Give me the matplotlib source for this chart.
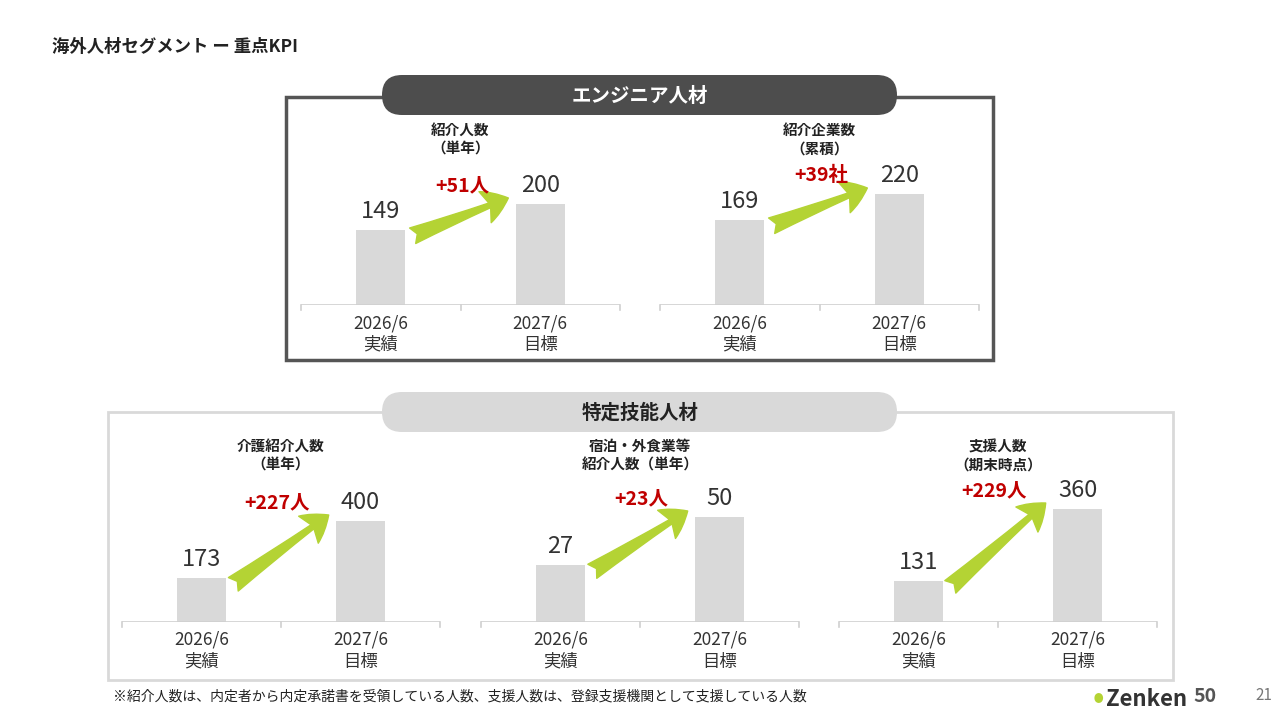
import matplotlib.pyplot as plt
from matplotlib.patches import FancyBboxPatch, Rectangle

plt.rcParams['font.family'] = ['Noto Sans CJK JP', 'DejaVu Sans']

page_title = "海外人材セグメント ー 重点KPI"
periods = ["2026/6\n実績", "2027/6\n目標"]

chart_titles = ["紹介人数\n（単年）", "紹介企業数\n（累積）", "介護紹介人数\n（単年）",
                "宿泊・外食業等\n紹介人数（単年）", "支援人数\n（期末時点）"]
actual = [149, 169, 173, 27, 131]
target = [200, 220, 400, 50, 360]
deltas = ["+51人", "+39社", "+227人", "+23人", "+229人"]

# chart placement in pixels: left, right, baseline, pixel height of the tallest bar
chart_boxes = [(301, 620, 305, 101), (660, 979, 305, 111), (122, 440, 622, 101),
               (481, 799, 622, 105), (839, 1157, 622, 113)]

W, H = 1280, 720
BAR = "#d9d9d9"
GREEN = "#b4d334"
RED = "#c00000"
DARK = "#333333"

fig = plt.figure(figsize=(12.8, 7.2), dpi=100)
bg = fig.add_axes([0, 0, 1, 1])
bg.set_xlim(0, W)
bg.set_ylim(H, 0)
bg.axis("off")

bg.text(52, 47, page_title, fontsize=12.5, fontweight="bold", color="#222222", va="center")

# section frames
bg.add_patch(Rectangle((286, 97), 707, 263, fill=False, ec="#555555", lw=2.5))
bg.add_patch(FancyBboxPatch((382, 75), 515, 40, boxstyle="round,pad=0,rounding_size=20",
                            fc="#4d4d4d", ec="none"))
bg.text(640, 96, "エンジニア人材", fontsize=14, fontweight="bold", color="white",
        ha="center", va="center")
bg.add_patch(Rectangle((108, 412), 1065, 268, fill=False, ec="#d9d9d9", lw=2))
bg.add_patch(FancyBboxPatch((382, 392), 515, 40, boxstyle="round,pad=0,rounding_size=20",
                            fc="#d9d9d9", ec="none"))
bg.text(640, 413, "特定技能人材", fontsize=14, fontweight="bold", color="#222222",
        ha="center", va="center")

AX_H = 200
for i, (l, r, base, maxpx) in enumerate(chart_boxes):
    ax = fig.add_axes([l / W, (H - base) / H, (r - l) / W, AX_H / H])
    vals = [actual[i], target[i]]
    top = max(vals) * AX_H / maxpx
    px = top / AX_H  # data units per pixel
    ax.bar([0, 1], vals, width=0.31, color=BAR)
    ax.set_xlim(-0.5, 1.5)
    ax.set_ylim(0, top)
    ax.axis("off")
    ax.axhline(0, color="#d0d0d0", lw=1.2)
    for x in (-0.5, 0.5, 1.5):
        ax.plot([x, x], [0, -5 * px], color="#d0d0d0", lw=1.2, clip_on=False)
    for x, v in enumerate(vals):
        ax.text(x, v + 7 * px, f"{v}", ha="center", va="bottom",
                fontsize=17, color=DARK)
        ax.text(x, -9 * px, periods[x], ha="center", va="top", fontsize=12.5,
                color=DARK, linespacing=1.25)
    ax.annotate("", xy=(0.8, vals[1] + 6 * px), xytext=(0.2, vals[0] - 6 * px),
                arrowprops=dict(arrowstyle="fancy,head_length=0.9,head_width=1.2,tail_width=0.6",
                                fc=GREEN, ec=GREEN, mutation_scale=20, shrinkA=0, shrinkB=0))
    ax.text(0.68, vals[1] + 9 * px, deltas[i], ha="right", va="bottom",
            fontsize=14, fontweight="bold", color=RED)
    ty = 122 if base == 305 else 438
    bg.text((l + r) / 2, ty, chart_titles[i], ha="center", va="top", fontsize=10.5,
            fontweight="bold", color="#222222", linespacing=1.2)

bg.text(113, 696, "※紹介人数は、内定者から内定承諾書を受領している人数、支援人数は、登録支援機関として支援している人数",
        fontsize=10, color="#222222", va="center")
bg.text(1093, 699, "•", fontsize=22, color=GREEN, va="center", fontweight="bold")
bg.text(1106, 699, "Zenken", fontsize=16, color="#333333", va="center", fontweight="bold")
bg.text(1193, 697, "50", fontsize=14, color="#555555", va="center", fontweight="bold")
bg.text(1255, 696, "21", fontsize=11, color="#777777", va="center")

fig.savefig("out.png", dpi=100)
